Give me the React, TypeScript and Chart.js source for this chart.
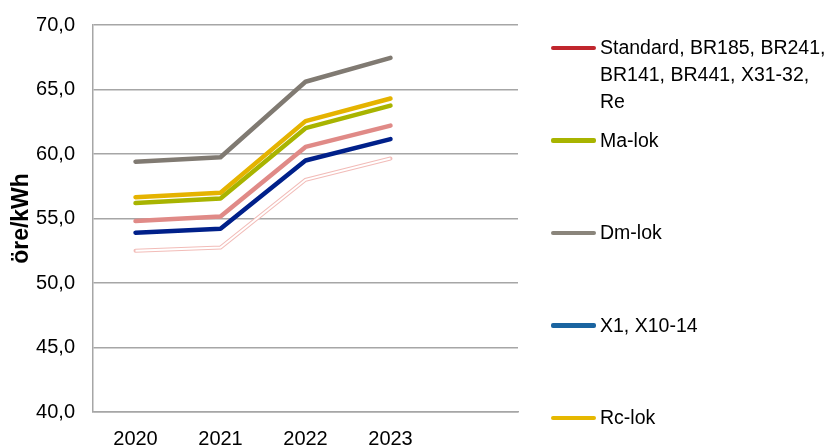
import React, { useEffect, useRef } from "react";
import { Chart, registerables } from "chart.js";

Chart.register(...registerables);

const years = ["2020", "2021", "2022", "2023", ""];
const standardValues = [54.8, 55.15, 60.55, 62.2];
const maLokValues = [56.2, 56.55, 62.0, 63.75];
const dmLokValues = [59.4, 59.75, 65.6, 67.45];
const x1Values = [53.9, 54.2, 59.5, 61.15];
const rcLokValues = [56.65, 57.0, 62.55, 64.3];
const faintValues = [52.5, 52.75, 58.0, 59.65];
const yTicks = [40, 45, 50, 55, 60, 65, 70];

const legendLabels = [
  "Standard, BR185, BR241, BR141, BR441, X31-32, Re",
  "Ma-lok",
  "Dm-lok",
  "X1, X10-14",
  "Rc-lok",
];
const legendColors = ["#c0262d", "#a8b400", "#8a857b", "#1a64a0", "#e6b800"];
const lineColors = ["#e08a87", "#a8b400", "#807a72", "#00208a", "#e5b300"];

const FONT = "'Liberation Sans', Arial, sans-serif";

export default function App() {
  const canvasRef = useRef<HTMLCanvasElement | null>(null);

  useEffect(() => {
    document.body.style.margin = "0";
    const canvas = canvasRef.current;
    if (!canvas) return;
    const series = [standardValues, maLokValues, dmLokValues, x1Values, rcLokValues];
    const datasets: any[] = series.map((vals, i) => ({
      label: legendLabels[i],
      data: vals,
      borderColor: lineColors[i],
      backgroundColor: lineColors[i],
      borderWidth: 4.5,
      pointRadius: 0,
      tension: 0,
      borderCapStyle: "round",
      borderJoinStyle: "round",
      fill: false,
    }));
    datasets.push({
      label: "faint-core",
      data: faintValues,
      borderColor: "#ffffff",
      borderWidth: 2,
      pointRadius: 0,
      tension: 0,
      fill: false,
    });
    datasets.push({
      label: "faint-edge",
      data: faintValues,
      borderColor: "#f2bcb8",
      borderWidth: 4,
      pointRadius: 0,
      tension: 0,
      borderCapStyle: "round",
      fill: false,
    });

    const chart = new Chart(canvas, {
      type: "line",
      data: { labels: years, datasets },
      options: {
        responsive: false,
        animation: false,
        devicePixelRatio: 1,
        layout: { padding: { left: 0, right: 313, top: 25, bottom: 0 } },
        plugins: { legend: { display: false }, tooltip: { enabled: false } },
        scales: {
          x: {
            type: "category",
            offset: true,
            grid: { display: false, drawTicks: true, tickLength: 12, tickColor: "rgba(0,0,0,0)" },
            border: { display: true, color: "#a6a6a6", width: 1.5 },
            ticks: {
              color: "#000",
              padding: 3,
              maxRotation: 0,
              autoSkip: false,
              font: { family: FONT, size: 20 },
            },
            afterFit: (scale: any) => {
              scale.height = 36;
            },
          },
          y: {
            min: 40,
            max: 70,
            afterBuildTicks: (scale: any) => {
              scale.ticks = yTicks.map((v) => ({ value: v }));
            },
            grid: {
              color: "#a6a6a6",
              lineWidth: 1.5,
              drawTicks: true,
              tickLength: 15,
              tickColor: "rgba(0,0,0,0)",
            },
            border: { display: true, color: "#a6a6a6", width: 1.5 },
            ticks: {
              color: "#000",
              padding: 3,
              font: { family: FONT, size: 20 },
              callback: (v: any) => Number(v).toFixed(1).replace(".", ","),
            },
            title: {
              display: true,
              text: "öre/kWh",
              color: "#000",
              padding: { top: 8, bottom: 0 },
              font: { family: FONT, size: 23, weight: "bold" },
            },
            afterFit: (scale: any) => {
              scale.width = 93;
            },
          },
        },
      },
    });
    return () => chart.destroy();
  }, []);

  return (
    <div style={{ position: "relative", width: 831, height: 448, background: "#fff" }}>
      <canvas ref={canvasRef} width={831} height={448} style={{ position: "absolute", left: 0, top: 0 }} />
      {legendLabels.map((label, i) => (
        <div
          key={label}
          style={{
            position: "absolute",
            left: 551,
            top: 47.5 + i * 92.5 - 13.5,
            width: 280,
            display: "flex",
            alignItems: "flex-start",
            fontFamily: FONT,
            fontSize: 19.5,
            lineHeight: "27px",
            color: "#000",
          }}
        >
          <div
            style={{
              width: 45,
              height: 4.5,
              marginTop: 11.5,
              borderRadius: 2,
              background: legendColors[i],
              flex: "0 0 auto",
            }}
          />
          <div style={{ marginLeft: 4, width: 231 }}>{label}</div>
        </div>
      ))}
    </div>
  );
}
